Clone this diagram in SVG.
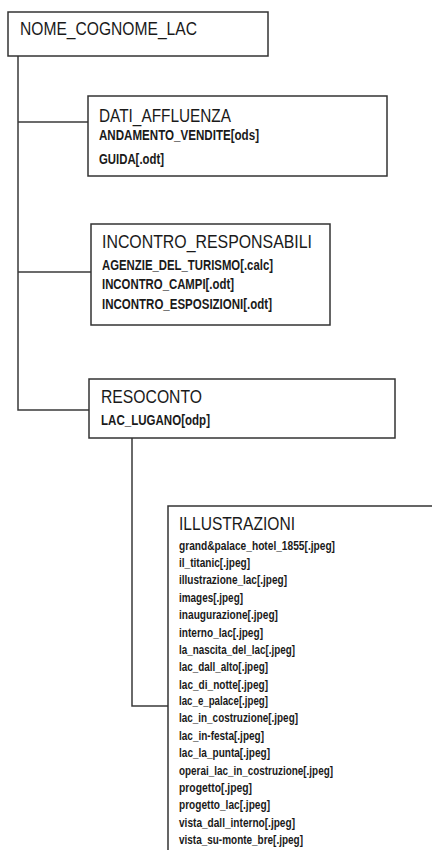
<svg xmlns="http://www.w3.org/2000/svg" width="432" height="850" viewBox="0 0 432 850">
<style>
.box{fill:#fff;stroke:#333;stroke-width:1.5}
.con{fill:none;stroke:#3a3a3a;stroke-width:1.5}
.t{font-family:"Liberation Sans",Arial,sans-serif;font-size:19px;fill:#1a1a1a}
.s{font-family:"Liberation Sans",Arial,sans-serif;font-size:14px;font-weight:bold;fill:#1a1a1a}
.i{font-family:"Liberation Sans",Arial,sans-serif;font-size:13px;font-weight:bold;fill:#1a1a1a}
</style>
<rect width="432" height="850" fill="#fff"/>
<g id="connectors">
<path class="con" d="M18 56 V410 H89"/>
<path class="con" d="M18 122 H88"/>
<path class="con" d="M18 272 H91"/>
<path class="con" d="M132 438 V706 H168"/>
</g>
<g id="nome_cognome_lac">
<rect class="box" x="8" y="12" width="260" height="44"/>
<text class="t" x="20" y="35" font-size="20" textLength="177" lengthAdjust="spacingAndGlyphs">NOME_COGNOME_LAC</text>
</g>
<g id="dati_affluenza">
<rect class="box" x="88" y="96" width="299" height="80"/>
<text class="t" x="99" y="122" textLength="132" lengthAdjust="spacingAndGlyphs">DATI_AFFLUENZA</text>
<text class="s" x="99" y="140" textLength="160" lengthAdjust="spacingAndGlyphs">ANDAMENTO_VENDITE[ods]</text>
<text class="s" x="99" y="164" textLength="65" lengthAdjust="spacingAndGlyphs">GUIDA[.odt]</text>
</g>
<g id="incontro_responsabili">
<rect class="box" x="91" y="224" width="239" height="101"/>
<text class="t" x="102" y="248" textLength="210" lengthAdjust="spacingAndGlyphs">INCONTRO_RESPONSABILI</text>
<text class="s" x="102" y="270" textLength="171" lengthAdjust="spacingAndGlyphs">AGENZIE_DEL_TURISMO[.calc]</text>
<text class="s" x="102" y="289" textLength="132" lengthAdjust="spacingAndGlyphs">INCONTRO_CAMPI[.odt]</text>
<text class="s" x="102" y="309" textLength="170" lengthAdjust="spacingAndGlyphs">INCONTRO_ESPOSIZIONI[.odt]</text>
</g>
<g id="resoconto">
<rect class="box" x="89" y="379" width="306" height="59"/>
<text class="t" x="101" y="403" textLength="101" lengthAdjust="spacingAndGlyphs">RESOCONTO</text>
<text class="s" x="101" y="425" textLength="109" lengthAdjust="spacingAndGlyphs">LAC_LUGANO[odp]</text>
</g>
<g id="illustrazioni">
<rect class="box" x="168" y="506" width="280" height="360"/>
<text class="t" x="179" y="530" textLength="116" lengthAdjust="spacingAndGlyphs">ILLUSTRAZIONI</text>
<text class="i" x="179" y="550" textLength="156" lengthAdjust="spacingAndGlyphs">grand&amp;palace_hotel_1855[.jpeg]</text>
<text class="i" x="179" y="567" textLength="71" lengthAdjust="spacingAndGlyphs">il_titanic[.jpeg]</text>
<text class="i" x="179" y="584" textLength="108" lengthAdjust="spacingAndGlyphs">illustrazione_lac[.jpeg]</text>
<text class="i" x="179" y="602" textLength="64" lengthAdjust="spacingAndGlyphs">images[.jpeg]</text>
<text class="i" x="179" y="619" textLength="99" lengthAdjust="spacingAndGlyphs">inaugurazione[.jpeg]</text>
<text class="i" x="179" y="637" textLength="84" lengthAdjust="spacingAndGlyphs">interno_lac[.jpeg]</text>
<text class="i" x="179" y="654" textLength="116" lengthAdjust="spacingAndGlyphs">la_nascita_del_lac[.jpeg]</text>
<text class="i" x="179" y="671" textLength="89" lengthAdjust="spacingAndGlyphs">lac_dall_alto[.jpeg]</text>
<text class="i" x="179" y="689" textLength="89" lengthAdjust="spacingAndGlyphs">lac_di_notte[.jpeg]</text>
<text class="i" x="179" y="705" textLength="89" lengthAdjust="spacingAndGlyphs">lac_e_palace[.jpeg]</text>
<text class="i" x="179" y="722" textLength="119" lengthAdjust="spacingAndGlyphs">lac_in_costruzione[.jpeg]</text>
<text class="i" x="179" y="740" textLength="85" lengthAdjust="spacingAndGlyphs">lac_in-festa[.jpeg]</text>
<text class="i" x="179" y="757" textLength="91" lengthAdjust="spacingAndGlyphs">lac_la_punta[.jpeg]</text>
<text class="i" x="179" y="775" textLength="154" lengthAdjust="spacingAndGlyphs">operai_lac_in_costruzione[.jpeg]</text>
<text class="i" x="179" y="792" textLength="73" lengthAdjust="spacingAndGlyphs">progetto[.jpeg]</text>
<text class="i" x="179" y="809" textLength="91" lengthAdjust="spacingAndGlyphs">progetto_lac[.jpeg]</text>
<text class="i" x="179" y="827" textLength="116" lengthAdjust="spacingAndGlyphs">vista_dall_interno[.jpeg]</text>
<text class="i" x="179" y="844" textLength="124" lengthAdjust="spacingAndGlyphs">vista_su-monte_bre[.jpeg]</text>
</g>
</svg>
